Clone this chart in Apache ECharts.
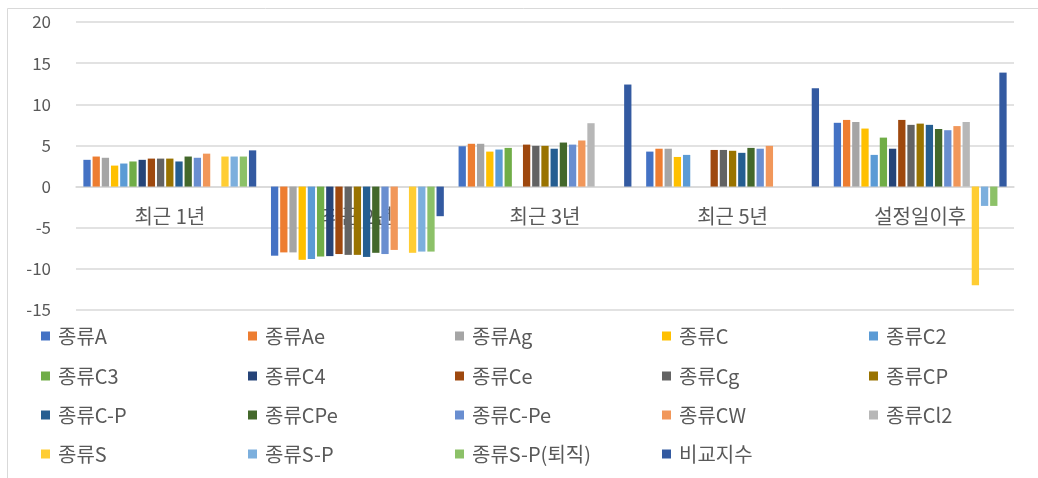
<!DOCTYPE html>
<html>
<head>
<meta charset="utf-8">
<script src="https://cdn.jsdelivr.net/npm/echarts@6/dist/echarts.min.js"></script>
<style>
  html, body { margin: 0; padding: 0; background: #fff; }
  #chart { width: 1038px; height: 478px; }
</style>
</head>
<body>
<div id="chart"></div>
<script>
// categories and tick labels
const categories = ["최근 1년", "최근 2년", "최근 3년", "최근 5년", "설정일이후"];
const yTicks = [-15, -10, -5, 0, 5, 10, 15, 20];

// one array per series, values per category (null = no bar)
const typeA    = [3.25, -8.4, 4.9, 4.25, 7.75];
const typeAe   = [3.65, -8.0, 5.2, 4.6, 8.1];
const typeAg   = [3.5, -8.0, 5.2, 4.6, 7.85];
const typeC    = [2.55, -8.9, 4.25, 3.6, 7.05];
const typeC2   = [2.8, -8.8, 4.5, 3.85, 3.85];
const typeC3   = [3.05, -8.5, 4.7, null, 5.95];
const typeC4   = [3.25, -8.45, null, null, 4.6];
const typeCe   = [3.4, -8.2, 5.1, 4.45, 8.1];
const typeCg   = [3.4, -8.3, 4.95, 4.45, 7.5];
const typeCP   = [3.4, -8.3, 4.95, 4.35, 7.65];
const typeC_P  = [3.05, -8.55, 4.6, 4.1, 7.5];
const typeCPe  = [3.65, -8.05, 5.35, 4.7, 7.0];
const typeC_Pe = [3.5, -8.2, 5.1, 4.6, 6.85];
const typeCW   = [4.0, -7.7, 5.6, 4.95, 7.35];
const typeCl2  = [null, null, 7.7, null, 7.85];
const typeS    = [3.65, -8.05, null, null, -12.0];
const typeS_P  = [3.65, -7.9, null, null, -2.35];
const typeS_PR = [3.65, -7.9, null, null, -2.35];
const benchmark = [4.4, -3.6, 12.4, 11.95, 13.85];

const seriesDefs = [
  ["종류A", typeA, "#4472C4"],
  ["종류Ae", typeAe, "#ED7D31"],
  ["종류Ag", typeAg, "#A5A5A5"],
  ["종류C", typeC, "#FFC000"],
  ["종류C2", typeC2, "#5B9BD5"],
  ["종류C3", typeC3, "#70AD47"],
  ["종류C4", typeC4, "#264478"],
  ["종류Ce", typeCe, "#9E480E"],
  ["종류Cg", typeCg, "#636363"],
  ["종류CP", typeCP, "#997300"],
  ["종류C-P", typeC_P, "#255E91"],
  ["종류CPe", typeCPe, "#43682B"],
  ["종류C-Pe", typeC_Pe, "#698ED0"],
  ["종류CW", typeCW, "#F1975A"],
  ["종류Cl2", typeCl2, "#B7B7B7"],
  ["종류S", typeS, "#FFCD33"],
  ["종류S-P", typeS_P, "#7CAFDD"],
  ["종류S-P(퇴직)", typeS_PR, "#8CC168"],
  ["비교지수", benchmark, "#335AA1"]
];

const font = "'Noto Sans CJK KR', 'Noto Sans', sans-serif";
const textColor = "#595959";
const gridColor = "#D9D9D9";

const gridTop = 22, gridBottom = 168, chartH = 478;

const series = seriesDefs.map(([name, data, color]) => ({
  name: name,
  type: "bar",
  data: data,
  barWidth: 7.3,
  barGap: "26%",
  itemStyle: { color: color },
  emphasis: { disabled: true }
}));

// legend laid out as 5 columns x 4 rows, one small legend per entry
const legendRowTops = [321, 361, 400, 439];
const legends = seriesDefs.map(([name], i) => ({
  data: [name],
  left: 36 + (i % 5) * 207,
  top: legendRowTops[Math.floor(i / 5)],
  icon: "rect",
  itemWidth: 9,
  itemHeight: 9,
  textStyle: { color: textColor, fontSize: 20, fontFamily: font, padding: [0, 0, 0, 3] }
}));

// pixel position of the zero line inside the grid
const plotH = chartH - gridTop - gridBottom;
const zeroOffset = plotH * (0 - yTicks[0]) / (yTicks[yTicks.length - 1] - yTicks[0]);

const chart = echarts.init(document.getElementById("chart"));
chart.setOption({
  animation: false,
  backgroundColor: "#fff",
  graphic: [{
    type: "rect",
    shape: { x: 7.5, y: 8.5, width: 1200, height: 700 },
    style: { fill: null, stroke: gridColor, lineWidth: 1 },
    silent: true
  }],
  grid: { left: 76, right: 24, top: gridTop, bottom: gridBottom },
  legend: legends,
  xAxis: {
    type: "category",
    data: categories,
    offset: -zeroOffset,
    axisLine: { onZero: false, lineStyle: { color: gridColor, width: 1.5 } },
    axisTick: { show: false },
    axisLabel: { color: textColor, fontSize: 20, fontFamily: font, margin: 20 }
  },
  yAxis: {
    type: "value",
    min: yTicks[0],
    max: yTicks[yTicks.length - 1],
    interval: 5,
    axisLine: { show: false },
    axisTick: { show: false },
    axisLabel: { color: textColor, fontSize: 17, fontFamily: font, margin: 25 },
    splitLine: { lineStyle: { color: gridColor, width: 1.5 } }
  },
  series: series
});
</script>
</body>
</html>
